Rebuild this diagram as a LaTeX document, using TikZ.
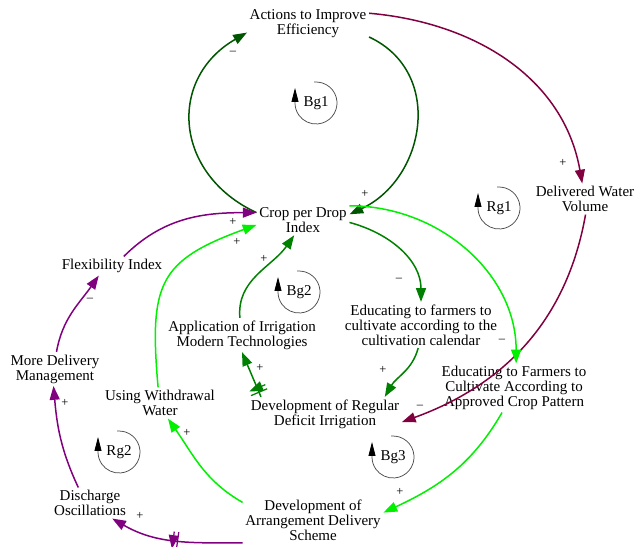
\documentclass[tikz,border=0pt]{standalone}
\usepackage{fontspec}
\setmainfont{Liberation Serif}
\usetikzlibrary{arrows.meta,decorations.markings}
\definecolor{dkgreen}{RGB}{0,85,0}
\definecolor{mdgreen}{RGB}{0,128,0}
\definecolor{ltgreen}{RGB}{0,240,0}
\definecolor{vpurple}{RGB}{128,0,128}
\definecolor{wine}{RGB}{128,0,64}
\tikzstyle{var}=[align=center, inner sep=2pt, font=\fontsize{12}{12}\selectfont]
\tikzstyle{pol}=[inner sep=0pt, font=\fontsize{10}{10}\selectfont]
\tikzstyle{loopname}=[inner sep=0pt, font=\fontsize{12}{12}\selectfont]
\tikzset{%
    link/.style={line width=1.2pt,-{Triangle[length=11pt,width=8pt]}},
    loopc/.style={draw=black!70,line width=0.6pt,-{Triangle[length=11pt,width=5.5pt,color=black]}},
    delaymark/.style={postaction={decorate,decoration={markings,
        mark=at position #1 with {\draw[line width=1pt] (-1.8pt,-7pt) -- (-1.8pt,7pt) (1.8pt,-7pt) -- (1.8pt,7pt);}}}},
  }
\begin{document}
\begin{tikzpicture}[x=0.8pt,y=-0.8pt]
    \useasboundingbox (0,0) rectangle (636,546);
    %
    \node (act) [var] at (308,24) {Actions to Improve\\Efficiency};
    \node (crop) [var] at (303,220) {Crop per Drop\\Index};
    \node (dwv) [var] at (585,199) {Delivered Water\\Volume};
    \node (flex) [var] at (112,266) {Flexibility Index};
    \node (mdm) [var] at (55,369) {More Delivery\\Management};
    \node (uww) [var] at (160,403) {Using Withdrawal\\Water};
    \node (app) [var] at (242,335) {Application of Irrigation\\Modern Technologies};
    \node (ecal) [var] at (421,325) {Educating to farmers to\\cultivate according to the\\cultivation calendar};
    \node (eapp) [var] at (514,388) {Educating to Farmers to\\Cultivate According to\\Approved Crop Pattern};
    \node (drdi) [var] at (325,414) {Development of Regular\\Deficit Irrigation};
    \node (dads) [var] at (313,520) {Development of\\Arrangement Delivery\\Scheme};
    \node (dis) [var] at (90,503) {Discharge\\Oscillations};
    %
    \draw[link, dkgreen] (crop.171) to[out=155, in=210, looseness=1.3] (act.188);
    \draw[link, dkgreen] (act.-12) to[out=-25, in=25, looseness=1.2] (crop.7);
    \draw[link, wine] (act.10) to[out=-5, in=100] (dwv.100);
    \draw[link, wine] (dwv.-88) to[out=-100, in=20] (drdi.-6);
    \draw[link, mdgreen] (crop.-3) to[out=-15, in=90] (ecal.north);
    \draw[link, ltgreen] (crop.17) to[out=0, in=90] (eapp.85);
    \draw[link, mdgreen] (ecal.-97) to[out=-105, in=60] (drdi.16);
    \draw[link, ltgreen] (eapp.-116) to[out=-120, in=25] (dads.6);
    \draw[link, ltgreen] (dads.166) to[out=150, in=-55] (uww.-63);
    \draw[link, ltgreen] (uww.97) to[out=95, in=200, looseness=1.4] (crop.186);
    \draw[link, mdgreen] (app.97) to[out=95, in=235] (crop.240);
    \draw[link, mdgreen, delaymark=0.15] (drdi.165) -- (app.-90);
    \draw[link, vpurple, delaymark=0.5] (dads.198) to[out=180, in=-30] (dis.-35);
    \draw[link, vpurple] (dis.127) to[out=115, in=-85] (mdm.-95);
    \draw[link, vpurple] (mdm.85) to[out=80, in=235] (flex.216);
    \draw[link, vpurple] (flex.39) to[out=45, in=180] (crop.171);
    %
    \node (p1) [pol] at (233,53) {–};
    \node (p2) [pol] at (365,194) {+};
    \node (p3) [pol] at (563,163) {+};
    \node (p4) [pol] at (420,407) {–};
    \node (p5) [pol] at (399,280) {–};
    \node (p6) [pol] at (502,341) {–};
    \node (p7) [pol] at (383,370) {+};
    \node (p8) [pol] at (400,492) {+};
    \node (p9) [pol] at (187,433) {+};
    \node (p10) [pol] at (237,242) {+};
    \node (p11) [pol] at (264,259) {+};
    \node (p12) [pol] at (260,368) {+};
    \node (p13) [pol] at (140,516) {+};
    \node (p14) [pol] at (65,403) {+};
    \node (p15) [pol] at (90,300) {–};
    \node (p16) [pol] at (233,222) {+};
    %
    \node (bg1) [loopname] at (316,103) {Bg1};
    \node (rg1) [loopname] at (499,208) {Rg1};
    \node (bg2) [loopname] at (299,292) {Bg2};
    \node (rg2) [loopname] at (119,452) {Rg2};
    \node (bg3) [loopname] at (393,457) {Bg3};
    \foreach \lp in {bg1,rg1,bg2,rg2,bg3}
      \draw[loopc] ([shift={(95:16.8pt)}]\lp.center) arc[start angle=95, end angle=-180, radius=16.8pt] -- ++(0pt,12pt);
  \end{tikzpicture}
\end{document}
